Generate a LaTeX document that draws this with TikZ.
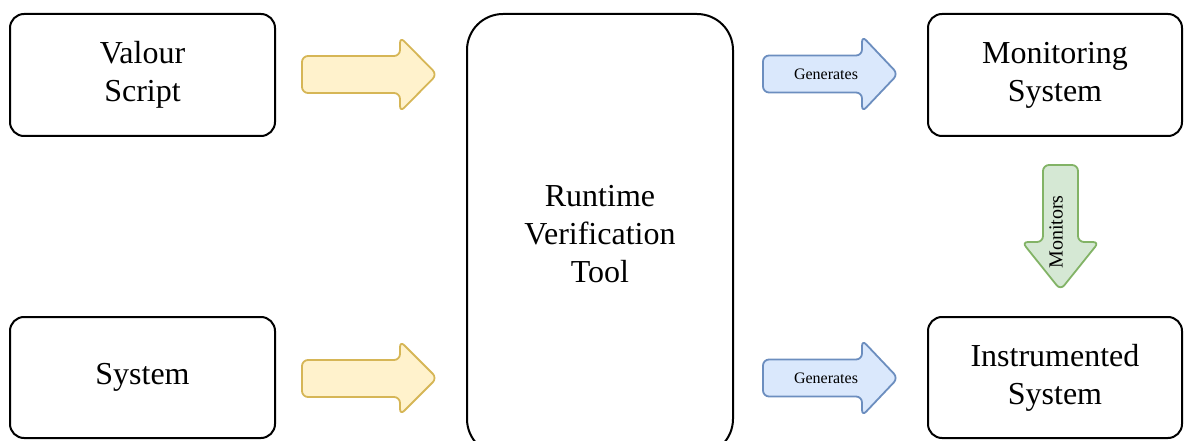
\documentclass[tikz,border=0pt]{standalone}
\usepackage{fontspec}
\setmainfont{Liberation Serif}
\definecolor{ylwfill}{HTML}{FFF2CC}
\definecolor{ylwline}{HTML}{D6B656}
\definecolor{blufill}{HTML}{DAE8FC}
\definecolor{bluline}{HTML}{6C8EBF}
\definecolor{grnfill}{HTML}{D5E8D4}
\definecolor{grnline}{HTML}{82B366}
\begin{document}
\begin{tikzpicture}[x=1pt,y=-1pt,
  boxnode/.style={draw=black, line width=2pt, rounded corners=14pt, align=center,
    font=\fontsize{32}{38}\selectfont, inner sep=0pt},
  ylwarrow/.style={draw=ylwline, fill=ylwfill, line width=1.8pt, rounded corners=6pt},
  bluarrow/.style={draw=bluline, fill=blufill, line width=1.8pt, rounded corners=6pt},
  grnarrow/.style={draw=grnline, fill=grnfill, line width=1.8pt, rounded corners=6pt},
  lbl/.style={font=\fontsize{16}{18}\selectfont, inner sep=0pt}]
\useasboundingbox (0,0) rectangle (1186,441);
\node[boxnode, minimum width=265pt, minimum height=122pt] (valour) at (142.5,75) {Valour\\Script};
\node[boxnode, minimum width=265pt, minimum height=121pt] (system) at (142.5,377.5) {System};
\node[boxnode, rounded corners=36pt, minimum width=266pt, minimum height=441pt] (rvt) at (600,234.5) {};
\node[font=\fontsize{32}{38}\selectfont, align=center, inner sep=0pt] (rvtlabel) at (600,234) {Runtime\\Verification\\Tool};
\node[boxnode, minimum width=254pt, minimum height=122pt] (mon) at (1055,75) {Monitoring\\System};
\node[boxnode, minimum width=254pt, minimum height=121pt] (inst) at (1055,377.5) {Instrumented\\System};
% yellow arrows
\draw[ylwarrow] (302,56) -- (400,56) -- (400,37) -- (437,74.5) -- (400,112) -- (400,93) -- (302,93) -- cycle;
\draw[ylwarrow] (302,360) -- (400,360) -- (400,341) -- (437,378) -- (400,415) -- (400,397) -- (302,397) -- cycle;
% blue arrows
\draw[bluarrow] (763,55.5) -- (862,55.5) -- (862,36) -- (898,74) -- (862,112) -- (862,92.5) -- (763,92.5) -- cycle;
\node[lbl] (gen1) at (826,74) {Generates};
\draw[bluarrow] (763,359.5) -- (862,359.5) -- (862,340) -- (898,378) -- (862,416) -- (862,396.5) -- (763,396.5) -- cycle;
\node[lbl] (gen2) at (826,378) {Generates};
% green arrow
\draw[grnarrow] (1043,165) -- (1043,242) -- (1022,242) -- (1060.5,290) -- (1099,242) -- (1078,242) -- (1078,165) -- cycle;
\node[lbl, font=\fontsize{20}{22}\selectfont, rotate=90] (monl) at (1056,232) {Monitors};
\end{tikzpicture}
\end{document}
